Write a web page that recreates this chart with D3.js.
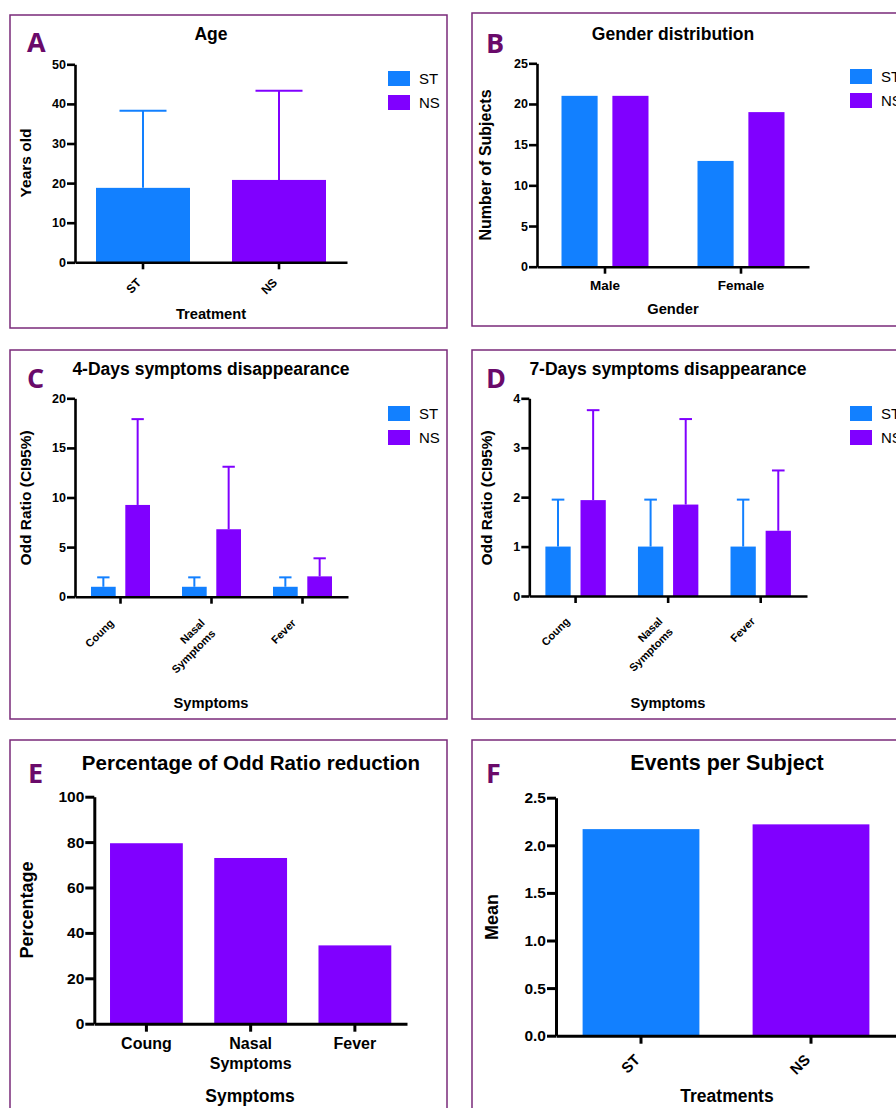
<!DOCTYPE html>
<html>
<head>
<meta charset="utf-8">
<script src="https://cdn.jsdelivr.net/npm/d3@7"></script>
<style>
  body { margin: 0; background: #fff; }
  text { font-family: "Liberation Sans", Arial, sans-serif; }
</style>
</head>
<body>
<svg width="896" height="1108"></svg>
<script>
// ---- data ----
var groups = ["ST", "NS"];

var ageMean = [18.8, 20.8];
var ageUpper = [38.3, 43.3];

var genders = ["Male", "Female"];
var genderST = [21, 13];
var genderNS = [21, 19];

var symptoms = ["Coung", "Nasal Symptoms", "Fever"];
var or4ST = [1, 1, 1];
var or4STUpper = [1.95, 1.95, 1.95];
var or4NS = [9.25, 6.8, 2.05];
var or4NSUpper = [17.9, 13.1, 3.87];

var or7ST = [1, 1, 1];
var or7STUpper = [1.95, 1.95, 1.95];
var or7NS = [1.94, 1.85, 1.32];
var or7NSUpper = [3.76, 3.58, 2.54];

var reduction = [79.5, 73, 34.5];

var treatments = ["ST", "NS"];
var eventsMean = [2.17, 2.22];

var svg = d3.select("svg");
var color = d3.scaleOrdinal(groups, ["#1280ff", "#8000ff"]);
var border = "#7a2a7a";
var letterColor = "#6a0a6a";

function panel(o) {
  var g = svg.append("g");

  g.append("rect")
    .attr("x", o.box[0]).attr("y", o.box[1])
    .attr("width", o.box[2] - o.box[0]).attr("height", o.box[3] - o.box[1])
    .attr("fill", "none").attr("stroke", border).attr("stroke-width", 1.5);

  var x = d3.scaleBand().domain(o.cats).range([o.x0, o.x1]);
  var y = d3.scaleLinear().domain([0, o.ymax]).range([o.yb, o.yt]);
  var inner = d3.scaleBand()
    .domain(o.series.map(function(s) { return s.key; }))
    .range([-o.half, o.half])
    .paddingInner(o.pad);

  o.series.forEach(function(s) {
    var bw = inner.bandwidth();
    o.cats.forEach(function(c, i) {
      var cx = x(c) + x.bandwidth() / 2 + inner(s.key);
      var col = s.color(i);
      g.append("rect")
        .attr("x", cx).attr("y", y(s.values[i]))
        .attr("width", bw).attr("height", o.yb - y(s.values[i]))
        .attr("fill", col);
      if (s.upper) {
        var mid = cx + bw / 2;
        g.append("line")
          .attr("x1", mid).attr("x2", mid)
          .attr("y1", y(s.values[i])).attr("y2", y(s.upper[i]))
          .attr("stroke", col).attr("stroke-width", 2);
        g.append("line")
          .attr("x1", mid - bw / 4).attr("x2", mid + bw / 4)
          .attr("y1", y(s.upper[i])).attr("y2", y(s.upper[i]))
          .attr("stroke", col).attr("stroke-width", 2);
      }
    });
  });

  // y axis
  var ya = g.append("g")
    .attr("transform", "translate(" + o.x0 + ",0)")
    .call(d3.axisLeft(y).tickValues(o.ticks).tickFormat(o.fmt)
      .tickSize(o.tickLen).tickSizeOuter(0).tickPadding(1));
  ya.select(".domain").attr("stroke", "#000").attr("stroke-width", o.axisW);
  ya.selectAll(".tick line").attr("stroke", "#000").attr("stroke-width", o.axisW);
  ya.selectAll(".tick text")
    .attr("fill", "#000").style("font-size", o.yTickSize + "px").style("font-weight", "bold");

  // x axis
  var xa = g.append("g")
    .attr("transform", "translate(0," + o.yb + ")")
    .call(d3.axisBottom(x).tickSize(o.xTickLen).tickSizeOuter(0));
  xa.select(".domain").attr("stroke", "#000").attr("stroke-width", o.axisW);
  xa.selectAll(".tick line").attr("stroke", "#000").attr("stroke-width", o.axisW);
  xa.selectAll(".tick text").remove();

  o.cats.forEach(function(c) {
    var cx = x(c) + x.bandwidth() / 2;
    var lines = c.split(" ");
    var t;
    if (o.rotate) {
      t = g.append("text")
        .attr("transform", "translate(" + (cx + o.rotDx) + "," + (o.yb + o.rotDy) + ") rotate(-45)")
        .attr("text-anchor", "end");
    } else {
      t = g.append("text")
        .attr("transform", "translate(" + cx + "," + (o.yb + o.flatDy) + ")")
        .attr("text-anchor", "middle");
    }
    t.style("font-size", o.xTickSize + "px").style("font-weight", "bold").attr("fill", "#000");
    lines.forEach(function(l, k) {
      t.append("tspan").attr("x", 0).attr("dy", k === 0 ? 0 : o.lineH).text(l);
    });
  });

  // panel letter
  g.append("text")
    .attr("x", o.letter[0]).attr("y", o.letter[1])
    .attr("fill", letterColor)
    .style("font-family", "'Open Sans', sans-serif")
    .style("font-size", "27px").style("font-weight", "bold")
    .text(o.name);

  // title
  g.append("text")
    .attr("x", o.title[0]).attr("y", o.title[1])
    .attr("text-anchor", "middle")
    .style("font-size", o.titleSize + "px").style("font-weight", "bold")
    .text(o.titleText);

  // axis titles
  g.append("text")
    .attr("transform", "translate(" + o.ylab[0] + "," + o.ylab[1] + ") rotate(-90)")
    .attr("text-anchor", "middle")
    .style("font-size", o.ylabSize + "px").style("font-weight", "bold")
    .text(o.ylabText);
  g.append("text")
    .attr("x", o.xlab[0]).attr("y", o.xlab[1])
    .attr("text-anchor", "middle")
    .style("font-size", o.xlabSize + "px").style("font-weight", "bold")
    .text(o.xlabText);

  // legend (cropped at the right edge in B and D, as in the source figure)
  if (o.legend) {
    var lx = o.box[0] + 378, ly = o.box[1] + 56;
    groups.forEach(function(k, i) {
      g.append("rect")
        .attr("x", lx).attr("y", ly + i * 24)
        .attr("width", 22).attr("height", 15)
        .attr("fill", color(k));
      g.append("text")
        .attr("x", lx + 31).attr("y", ly + i * 24 + 13)
        .style("font-size", "15px")
        .text(k);
    });
  }
}

var fmtInt = d3.format("d");
var small = {
  axisW: 2.6, tickLen: 8, xTickLen: 7, yTickSize: 12.5, xTickSize: 11,
  titleSize: 17.5, ylabSize: 15.5, xlabSize: 14.7, lineH: "1.35em",
  rotDx: -6, rotDy: 27, flatDy: 28, pad: 0.28, legend: true
};
var big = {
  axisW: 3, tickLen: 9, xTickLen: 8, yTickSize: 15.5, xTickSize: 16,
  ylabSize: 18, xlabSize: 17.5, lineH: "1.25em",
  rotDx: 0, rotDy: 25, flatDy: 26, pad: 0, legend: false
};

panel(Object.assign({}, small, {
  name: "A", box: [10, 15, 447, 328], x0: 75, x1: 347, yb: 262.3, yt: 64.3,
  cats: groups, ymax: 50, ticks: d3.range(0, 51, 10), fmt: fmtInt,
  half: 47, pad: 0,
  series: [{ key: "age", values: ageMean, upper: ageUpper, color: function(i) { return color(groups[i]); } }],
  rotate: true, rotDx: -1, rotDy: 21, xTickSize: 12,
  letter: [27, 52], title: [211, 40], titleText: "Age",
  ylab: [31, 163], ylabText: "Years old",
  xlab: [211, 319], xlabText: "Treatment"
}));

panel(Object.assign({}, small, {
  name: "B", box: [472, 13, 910, 326], x0: 537, x1: 809, yb: 266.7, yt: 63.3,
  cats: genders, ymax: 25, ticks: d3.range(0, 26, 5), fmt: fmtInt,
  half: 43.5, pad: 0.29,
  series: [
    { key: "ST", values: genderST, color: function() { return color("ST"); } },
    { key: "NS", values: genderNS, color: function() { return color("NS"); } }
  ],
  rotate: false, xTickSize: 13.5, flatDy: 23,
  letter: [486, 53], title: [673, 39.5], titleText: "Gender distribution",
  ylab: [491, 165], ylabText: "Number of Subjects", ylabSize: 16,
  xlab: [673, 314], xlabText: "Gender"
}));

panel(Object.assign({}, small, {
  name: "C", box: [10, 350, 447, 719], x0: 75, x1: 348, yb: 596.7, yt: 398.3,
  cats: symptoms, ymax: 20, ticks: d3.range(0, 21, 5), fmt: fmtInt,
  half: 29.5,
  series: [
    { key: "ST", values: or4ST, upper: or4STUpper, color: function() { return color("ST"); } },
    { key: "NS", values: or4NS, upper: or4NSUpper, color: function() { return color("NS"); } }
  ],
  rotate: true,
  letter: [27, 388], title: [211, 375], titleText: "4-Days symptoms disappearance",
  ylab: [31, 498], ylabText: "Odd Ratio (CI95%)",
  xlab: [211, 707.5], xlabText: "Symptoms"
}));

panel(Object.assign({}, small, {
  name: "D", box: [472, 350, 910, 719], x0: 529.3, x1: 807, yb: 596, yt: 398.3,
  cats: symptoms, ymax: 4, ticks: d3.range(0, 5, 1), fmt: fmtInt,
  half: 30.2,
  series: [
    { key: "ST", values: or7ST, upper: or7STUpper, color: function() { return color("ST"); } },
    { key: "NS", values: or7NS, upper: or7NSUpper, color: function() { return color("NS"); } }
  ],
  rotate: true, rotDx: -5, rotDy: 26,
  letter: [486, 388], title: [668, 375], titleText: "7-Days symptoms disappearance",
  ylab: [492, 498], ylabText: "Odd Ratio (CI95%)",
  xlab: [668, 707.5], xlabText: "Symptoms"
}));

panel(Object.assign({}, big, {
  name: "E", box: [10, 740, 447, 1120], x0: 94.3, x1: 407, yb: 1023.7, yt: 796.7,
  cats: symptoms, ymax: 100, ticks: d3.range(0, 101, 20), fmt: fmtInt,
  half: 36.4,
  series: [{ key: "red", values: reduction, color: function() { return color("NS"); } }],
  rotate: false, flatDy: 25.6,
  letter: [28, 783], title: [251, 770], titleText: "Percentage of Odd Ratio reduction", titleSize: 20.5,
  ylab: [33, 910], ylabText: "Percentage",
  xlab: [250, 1101.5], xlabText: "Symptoms"
}));

panel(Object.assign({}, big, {
  name: "F", box: [472, 740, 910, 1120], x0: 556, x1: 896, yb: 1035.7, yt: 797.7,
  cats: treatments, ymax: 2.5, ticks: d3.range(0, 2.51, 0.5), fmt: d3.format(".1f"),
  half: 58.4,
  series: [{ key: "ev", values: eventsMean, color: function(i) { return color(treatments[i]); } }],
  rotate: true, xTickSize: 15,
  letter: [486, 783], title: [727, 770], titleText: "Events per Subject", titleSize: 21.5,
  ylab: [498, 917], ylabText: "Mean",
  xlab: [727, 1101.7], xlabText: "Treatments"
}));
</script>
</body>
</html>
